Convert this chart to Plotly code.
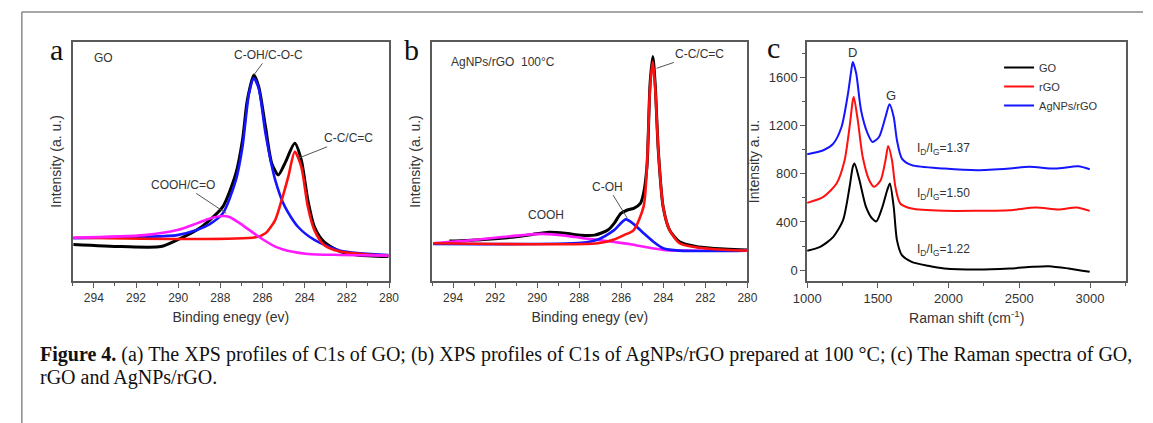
import plotly.graph_objects as go

W, H = 1153, 423

# ---------------- Panel a: XPS C1s of GO ----------------
a_total_E = [294.97, 292.68, 290.82, 290.04, 289.12, 288.50, 287.88, 287.26, 286.95, 286.72, 286.41,
             286.18, 285.86, 285.56, 285.25, 284.94, 284.47, 284.16, 283.85, 283.54, 283.08, 282.31,
             281.53, 280.03]
a_total_I = [15.3, 14.4, 14.4, 17.2, 21.3, 25.5, 31.1, 45.1, 59.0, 75.7, 86.2,
             81.3, 64.6, 49.2, 44.4, 49.2, 57.6, 50.6, 33.9, 22.7, 16.4, 12.3,
             10.9, 10.2]
a_coh_E = [294.97, 291.6, 290.04, 289.12, 288.50, 287.88, 287.26, 286.95, 286.64, 286.41, 286.18,
           285.86, 285.40, 284.94, 284.32, 283.54, 282.31, 280.03]
a_coh_I = [17.9, 18.5, 19.2, 21.3, 23.8, 28.3, 42.3, 56.2, 78.5, 84.8, 80.6,
           61.8, 42.3, 31.1, 22.7, 17.2, 12.7, 10.9]
a_cc_E = [294.97, 286.33, 285.86, 285.40, 285.09, 284.78, 284.47, 284.16, 283.85, 283.54, 283.08,
          282.31, 280.03]
a_cc_I = [18.1, 18.3, 20.0, 25.5, 33.9, 43.6, 54.1, 47.8, 31.1, 21.3, 15.1, 12.3, 10.5]
a_cooh_E = [294.97, 291.6, 290.04, 289.12, 288.50, 287.88, 287.57, 286.95, 286.18, 285.40, 284.63,
            283.85, 282.31, 280.03]
a_cooh_I = [18.1, 19.2, 21.3, 24.1, 26.2, 27.2, 26.8, 23.4, 18.5, 14.4, 12.3, 11.3, 10.9, 10.6]

# ---------------- Panel b: XPS C1s of AgNPs/rGO ----------------
b_total_E = [294.18, 292.55, 290.99, 290.22, 289.44, 288.67, 287.89, 287.27, 286.64, 286.34, 286.02,
             285.71, 285.41, 285.09, 284.94, 284.78, 284.63, 284.50, 284.39, 284.24, 284.01, 283.70,
             283.23, 282.45, 281.68, 280.02]
b_total_I = [16.7, 17.4, 18.5, 19.5, 20.4, 20.0, 19.1, 19.2, 21.3, 24.1, 28.3,
             29.7, 30.4, 32.5, 36.7, 47.8, 82.7, 93.9, 82.7, 54.8, 31.1, 21.3,
             16.4, 14.4, 13.7, 13.0]
b_cc_E = [294.95, 287.11, 286.34, 285.87, 285.41, 284.94, 284.78, 284.63, 284.50, 284.39, 284.24,
          284.01, 283.70, 283.23, 282.45, 281.68, 280.02]
b_cc_I = [15.8, 15.8, 17.4, 19.2, 21.3, 31.1, 47.8, 81.3, 91.8, 81.3, 54.8,
          31.1, 21.3, 15.8, 14.1, 13.4, 12.7]
b_coh_E = [294.95, 287.89, 287.11, 286.34, 285.79, 285.41, 284.94, 284.47, 284.01, 283.23, 280.02]
b_coh_I = [15.5, 16.0, 17.4, 21.3, 25.8, 23.8, 20.0, 16.4, 13.7, 12.7, 12.7]
b_cooh_E = [294.95, 293.32, 291.77, 290.68, 289.75, 288.67, 287.89, 287.11, 286.34, 285.56, 284.78,
            284.01, 283.23, 280.02]
b_cooh_I = [15.8, 16.9, 18.3, 19.2, 19.7, 19.0, 18.0, 17.2, 16.3, 15.4, 14.1, 13.0, 12.7, 12.7]

# ---------------- Panel c: Raman ----------------
go_w = [1000, 1092, 1185, 1254, 1300, 1323, 1335, 1370, 1416, 1462, 1490, 1531, 1566, 1585, 1612,
        1635, 1670, 1739, 1855, 1970, 2201, 2432, 2594, 2709, 2848, 2998]
go_I = [160, 193, 276, 415, 690, 857, 884, 746, 525, 425, 405, 520, 663, 719, 525,
        249, 124, 69, 36, 14, 5, 14, 28, 33, 14, -14]
rgo_w = [1000, 1115, 1208, 1265, 1300, 1323, 1330, 1358, 1393, 1439, 1474, 1520, 1554, 1573, 1600,
         1624, 1658, 1739, 1970, 2201, 2432, 2617, 2778, 2905, 2998]
rgo_I = [558, 608, 719, 912, 1188, 1410, 1437, 1244, 939, 746, 691, 746, 912, 1030, 912,
         691, 553, 511, 492, 492, 497, 519, 503, 519, 492]
ag_w = [1000, 1115, 1185, 1243, 1289, 1312, 1323, 1347, 1381, 1428, 1462, 1508, 1554, 1582, 1612,
        1635, 1670, 1739, 1970, 2201, 2432, 2571, 2756, 2917, 2998]
ag_I = [962, 995, 1050, 1188, 1465, 1658, 1727, 1631, 1327, 1133, 1064, 1105, 1271, 1376, 1271,
        1078, 926, 871, 843, 829, 843, 857, 843, 862, 837]

raman_names = ["GO", "rGO", "AgNPs/rGO"]
raman_ticks_y = [0, 400, 800, 1200, 1600]

BLACK, RED, BLUE, MAG = "#000000", "#ff1010", "#1515ff", "#ff1aff"
SANS = "Liberation Sans, Arial, sans-serif"
SERIF = "Liberation Serif, Times New Roman, serif"
CAPFONT = "Liberation Serif, Times New Roman, serif"
AXC = "#5a5a5a"
TXT = "#333333"

fig = go.Figure()

def line(x, y, color, xa, ya, width=2.6, name=None, legend=False):
    fig.add_trace(go.Scatter(x=x, y=y, mode="lines", xaxis=xa, yaxis=ya,
                             line=dict(color=color, width=width, shape="spline", smoothing=0.7),
                             name=name, showlegend=legend, hoverinfo="skip"))

# panel a (draw order: black, blue, red, magenta)
line(a_total_E, a_total_I, BLACK, "x", "y", 3.0)
line(a_coh_E, a_coh_I, BLUE, "x", "y")
line(a_cc_E, a_cc_I, RED, "x", "y")
line(a_cooh_E, a_cooh_I, MAG, "x", "y")
# panel b
line(b_total_E, b_total_I, BLACK, "x2", "y2", 3.0)
line(b_cooh_E, b_cooh_I, MAG, "x2", "y2")
line(b_coh_E, b_coh_I, BLUE, "x2", "y2")
line(b_cc_E, b_cc_I, RED, "x2", "y2")
# panel c
for w, I, c, n in [(go_w, go_I, BLACK, raman_names[0]),
                   (rgo_w, rgo_I, RED, raman_names[1]),
                   (ag_w, ag_I, BLUE, raman_names[2])]:
    line(w, I, c, "x3", "y3", 2.0, name=n, legend=True)

def px_x(p):
    return p / W

def px_y(p):
    return 1 - p / H

ydom = [px_y(281), px_y(42)]
xdoms = [[px_x(60), px_x(383)], [px_x(427), px_x(749)], [px_x(810), px_x(1136)]]

tickfont = dict(family=SANS, size=12, color=TXT)
titlefont = dict(family=SANS, size=14, color=TXT)

xps_x = dict(range=[295, 280], tick0=280, dtick=2, ticks="outside", ticklen=5, tickwidth=1.3,
             tickcolor=AXC, showline=True, linecolor=AXC, linewidth=1.5, mirror=True,
             showgrid=False, zeroline=False, tickfont=tickfont,
             minor=dict(ticks="outside", dtick=1, tick0=280, ticklen=3, tickcolor=AXC, showgrid=False),
             title=dict(text="Binding enegy (ev)", font=titlefont, standoff=8))
xps_y = dict(range=[0, 100], showticklabels=False, ticks="", showline=True, linecolor=AXC,
             linewidth=1.5, mirror=True, showgrid=False, zeroline=False,
             title=dict(text="Intensity (a. u.)", font=titlefont, standoff=6))

fig.update_layout(
    width=W, height=H, margin=dict(l=0, r=0, t=0, b=0),
    paper_bgcolor="white", plot_bgcolor="white",
    xaxis=dict(domain=xdoms[0], anchor="y", **xps_x),
    yaxis=dict(domain=ydom, anchor="x", **xps_y),
    xaxis2=dict(domain=xdoms[1], anchor="y2", **xps_x),
    yaxis2=dict(domain=ydom, anchor="x2", **xps_y),
    xaxis3=dict(domain=xdoms[2], anchor="y3", range=[1000, 3257], tick0=1000, dtick=500,
                ticks="outside", ticklen=5, tickwidth=1.3, tickcolor=AXC, showline=True,
                linecolor=AXC, linewidth=1.5, mirror=True, showgrid=False, zeroline=False,
                tickfont=dict(family=SANS, size=13, color=TXT),
                minor=dict(ticks="outside", dtick=250, tick0=1000, ticklen=3, tickcolor=AXC, showgrid=False),
                title=dict(text="Raman shift (cm<sup>-1</sup>)", font=titlefont, standoff=8)),
    yaxis3=dict(domain=ydom, anchor="x3", range=[-90, 1893], tickvals=raman_ticks_y,
                ticks="outside", ticklen=5, tickwidth=1.3, tickcolor=AXC, showline=True,
                linecolor=AXC, linewidth=1.5, mirror=True, showgrid=False, zeroline=False,
                tickfont=dict(family=SANS, size=13, color=TXT),
                minor=dict(ticks="outside", dtick=200, tick0=0, ticklen=3, tickcolor=AXC, showgrid=False),
                title=dict(text="Intensity a. u.", font=titlefont, standoff=6)),
    showlegend=True,
    legend=dict(x=px_x(1006), y=px_y(53), xanchor="left", yanchor="top",
                font=dict(family=SANS, size=11, color=TXT), bgcolor="rgba(0,0,0,0)",
                itemwidth=30, tracegroupgap=0),
)

ann = []
def label(text, x, y, xref, yref, size=12, xanchor="center", **kw):
    ann.append(dict(text=text, x=x, y=y, xref=xref, yref=yref, showarrow=False,
                    font=dict(family=SANS, size=size, color=TXT), xanchor=xanchor, **kw))

def leader(text, tipx, tipy, tx, ty, xref, yref):
    ann.append(dict(text=text, x=tipx, y=tipy, ax=tx, ay=ty, xref=xref, yref=yref,
                    axref=xref, ayref=yref, showarrow=True, arrowhead=0, arrowwidth=1,
                    arrowcolor="#555555", font=dict(family=SANS, size=12, color=TXT)))

# panel a texts
label("GO", 293.53, 93.2, "x", "y")
leader("C-OH/C-O-C", 286.41, 86.2, 285.71, 94.6, "x", "y")
leader("C-C/C=C", 284.32, 51.3, 281.92, 59.7, "x", "y")
leader("COOH/C=O", 287.72, 28.3, 289.75, 40.2, "x", "y")
# panel b texts
label("AgNPs/rGO  100°C", 294.18, 91.8, "x2", "y2", xanchor="left")
leader("C-C/C=C", 284.32, 89.0, 282.30, 95.0, "x2", "y2")
leader("C-OH", 285.71, 26.2, 286.64, 39.5, "x2", "y2")
label("COOH", 289.60, 27.6, "x2", "y2")
# panel c texts
label("D", 1323, 1802, "x3", "y3", size=13)
label("G", 1594, 1445, "x3", "y3", size=13)
label("I<sub>D</sub>/I<sub>G</sub>=1.37", 1765, 1009, "x3", "y3", xanchor="left")
label("I<sub>D</sub>/I<sub>G</sub>=1.50", 1765, 636, "x3", "y3", xanchor="left")
label("I<sub>D</sub>/I<sub>G</sub>=1.22", 1765, 166, "x3", "y3", xanchor="left")

# panel letters
for t, xp, yp in [("a", 43, 50), ("b", 406, 50), ("c", 776, 48)]:
    ann.append(dict(text=t, x=px_x(xp), y=px_y(yp), xref="paper", yref="paper", showarrow=False,
                    font=dict(family=SERIF, size=30, color="#111111"), xanchor="center", yanchor="middle"))

# caption
cap1 = ("<b>Figure 4.</b> (a) The XPS profiles of C1s of GO; (b) XPS profiles of C1s of AgNPs/rGO "
        "prepared at 100 °C; (c) The Raman spectra of GO,")
cap2 = "rGO and AgNPs/rGO."
for t, yp in [(cap1, 354), (cap2, 377)]:
    ann.append(dict(text=t, x=px_x(24), y=px_y(yp), xref="paper", yref="paper", showarrow=False,
                    font=dict(family=CAPFONT, size=20, color="#111111"), xanchor="left", yanchor="middle"))

fig.update_layout(annotations=ann)

# outer frame (top and left edges)
fig.add_shape(type="line", xref="paper", yref="paper", x0=px_x(8), x1=1, y0=px_y(12), y1=px_y(12),
              line=dict(color="#8a8a8a", width=1.5))
fig.add_shape(type="line", xref="paper", yref="paper", x0=px_x(8), x1=px_x(8), y0=0, y1=px_y(12),
              line=dict(color="#8a8a8a", width=1.5))

fig.write_html("out.html")
